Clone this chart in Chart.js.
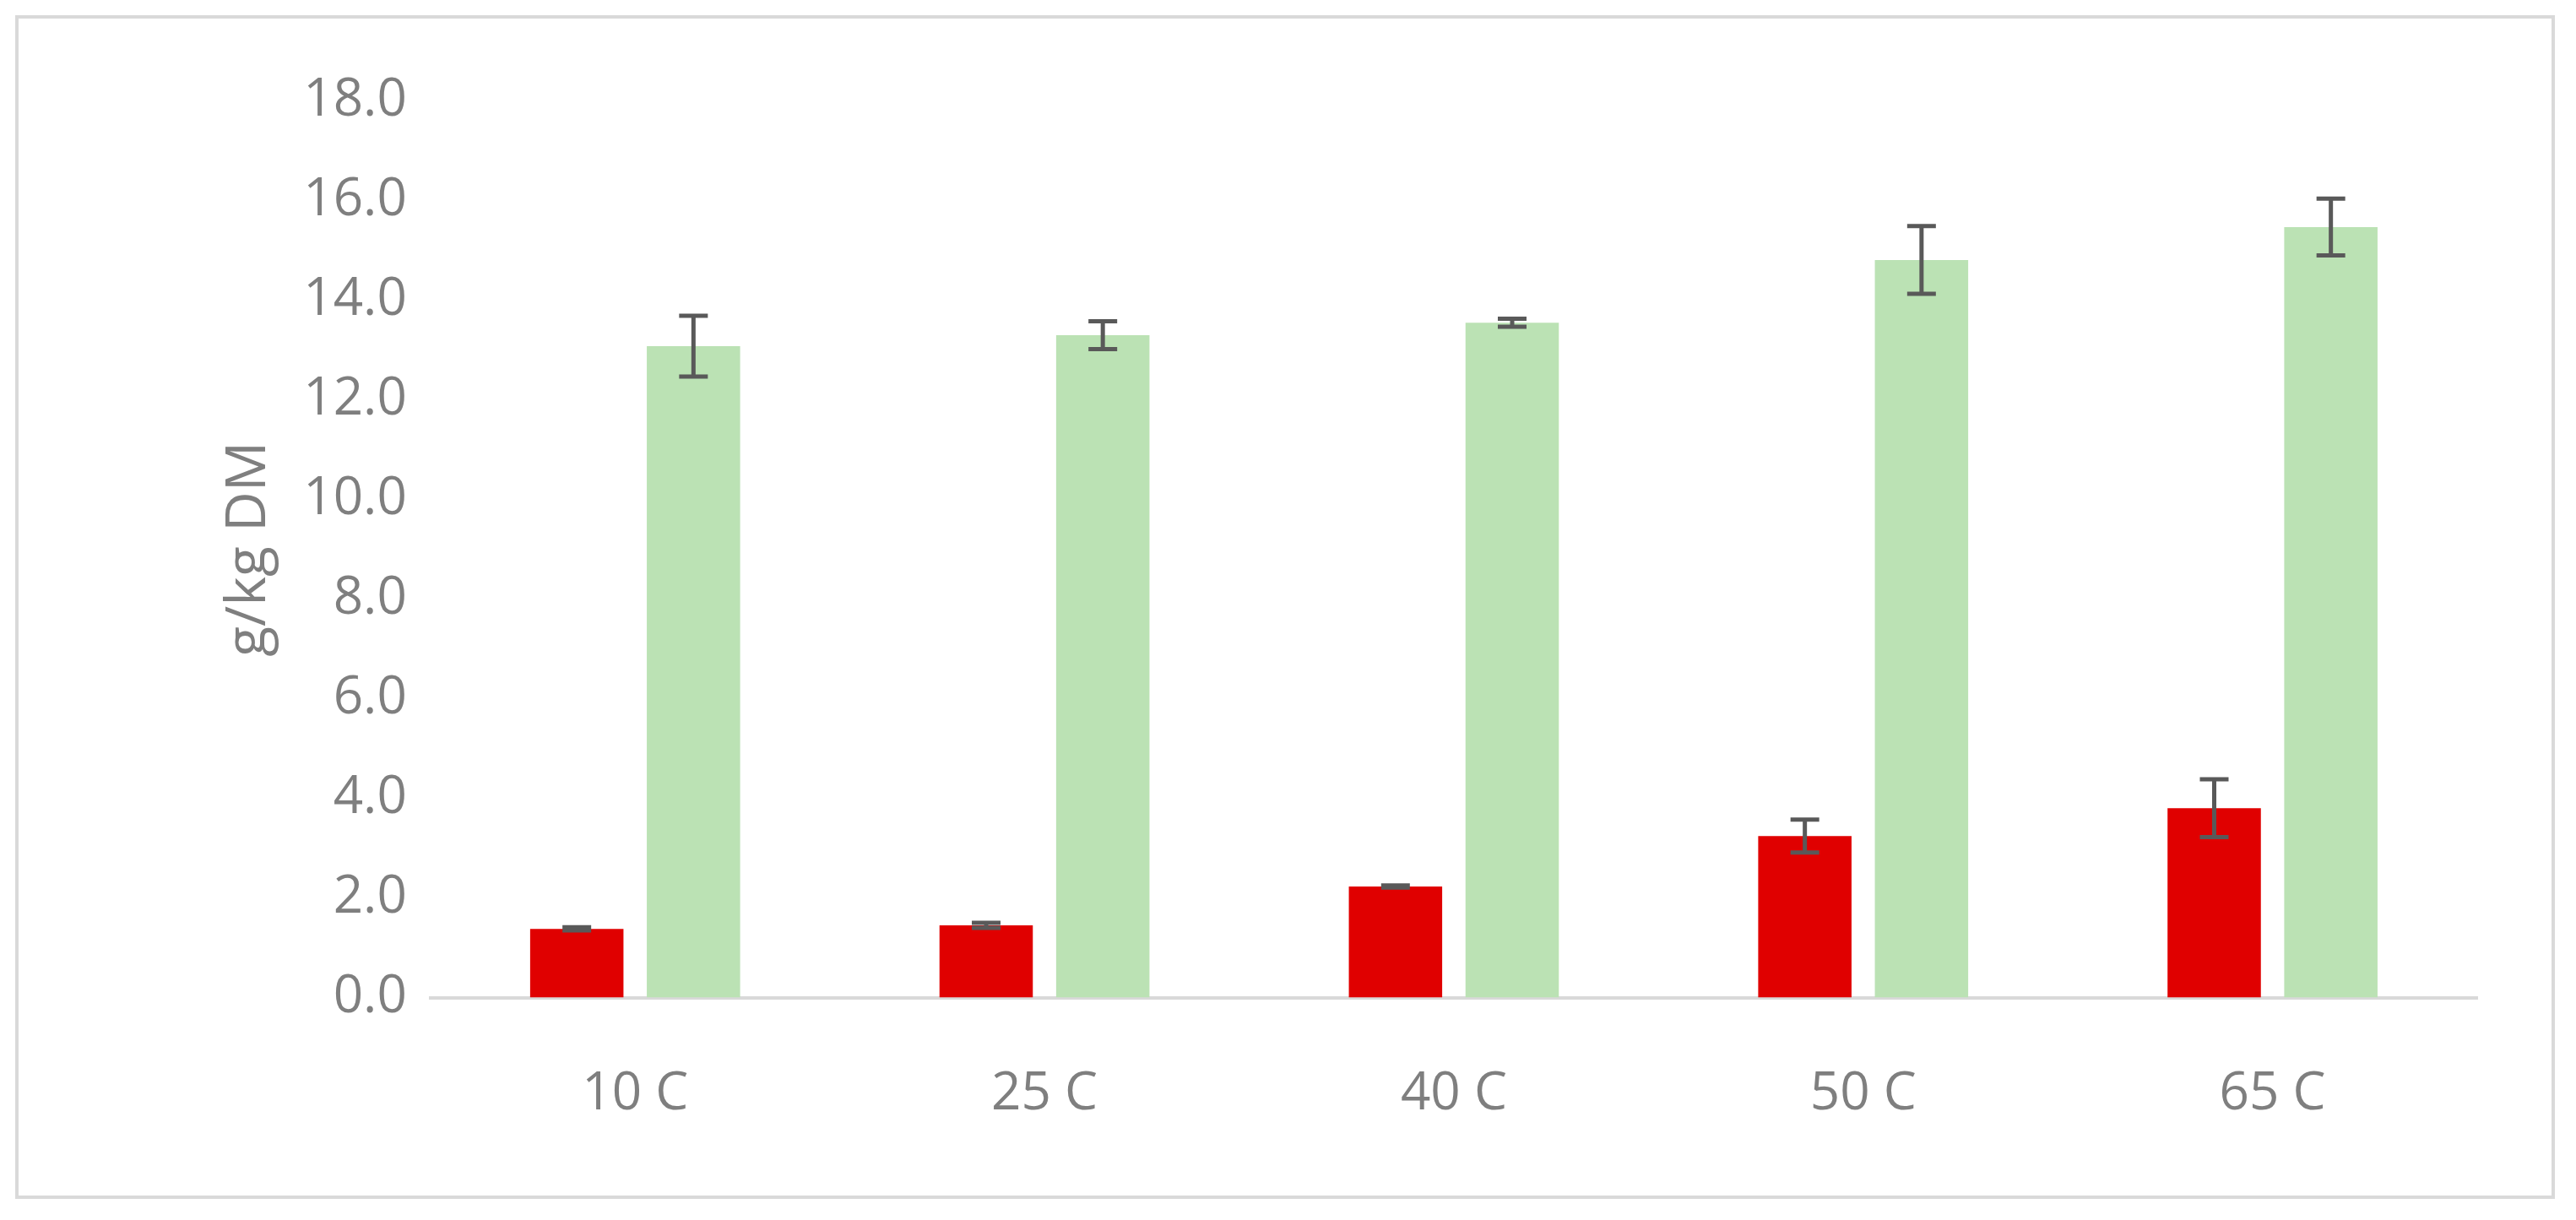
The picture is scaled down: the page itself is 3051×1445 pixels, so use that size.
<!DOCTYPE html>
<html>
<head>
<meta charset="utf-8">
<script src="https://cdn.jsdelivr.net/npm/chart.js@4"></script>
<style>
  html, body { margin: 0; background: #fff; }
  #frame {
    position: absolute; left: 18px; top: 18px;
    width: 3008px; height: 1402px;
    border: 4px solid #d9d9d9; box-sizing: border-box;
  }
  canvas { display: block; }
</style>
</head>
<body>
<div id="frame"><canvas id="c" width="3000" height="1394"></canvas></div>
<script>
const categories = ['10 C', '25 C', '40 C', '50 C', '65 C'];
const redValues = [1.38, 1.45, 2.23, 3.24, 3.80];
const redErrors = [0.03, 0.05, 0.02, 0.33, 0.58];
const greenValues = [13.07, 13.29, 13.54, 14.80, 15.46];
const greenErrors = [0.61, 0.28, 0.08, 0.68, 0.57];

const TEXT = '#7f7f7f';
const FONT = "'Open Sans', 'Liberation Sans', sans-serif";

// error bars drawn through the y scale
const errorBars = {
  id: 'errorBars',
  afterDatasetsDraw(chart) {
    const { ctx } = chart;
    const y = chart.scales.y;
    chart.data.datasets.forEach((ds, di) => {
      const meta = chart.getDatasetMeta(di);
      meta.data.forEach((bar, i) => {
        const v = ds.data[i], e = ds.errors[i];
        const top = y.getPixelForValue(v + e);
        const bot = y.getPixelForValue(v - e);
        ctx.save();
        ctx.strokeStyle = '#595959';
        ctx.lineWidth = 5;
        ctx.beginPath();
        ctx.moveTo(bar.x, top); ctx.lineTo(bar.x, bot);
        ctx.moveTo(bar.x - 17, top); ctx.lineTo(bar.x + 17, top);
        ctx.moveTo(bar.x - 17, bot); ctx.lineTo(bar.x + 17, bot);
        ctx.stroke();
        ctx.restore();
      });
    });
  }
};

new Chart(document.getElementById('c'), {
  type: 'bar',
  data: {
    labels: categories,
    datasets: [
      { data: redValues, errors: redErrors, backgroundColor: '#e00000' },
      { data: greenValues, errors: greenErrors, backgroundColor: '#bbe2b4' },
    ],
  },
  options: {
    responsive: false,
    devicePixelRatio: 1,
    animation: false,
    categoryPercentage: 0.57,
    barPercentage: 0.8,
    layout: { padding: { left: 230, right: 88, top: 97, bottom: 12 } },
    plugins: { legend: { display: false }, tooltip: { enabled: false } },
    scales: {
      x: {
        grid: { display: false },
        border: { display: true, color: '#d9d9d9', width: 4 },
        ticks: { color: TEXT, font: { family: FONT, size: 62 }, padding: 70 },
      },
      y: {
        min: 0, max: 18,
        ticks: {
          stepSize: 2, color: TEXT, padding: 20,
          font: { family: FONT, size: 62 },
          callback: v => v.toFixed(1),
        },
        grid: { display: false },
        border: { display: false },
        title: { display: true, text: 'g/kg DM', color: TEXT, font: { family: FONT, size: 66 } },
      },
    },
  },
  plugins: [errorBars],
});
</script>
</body>
</html>
